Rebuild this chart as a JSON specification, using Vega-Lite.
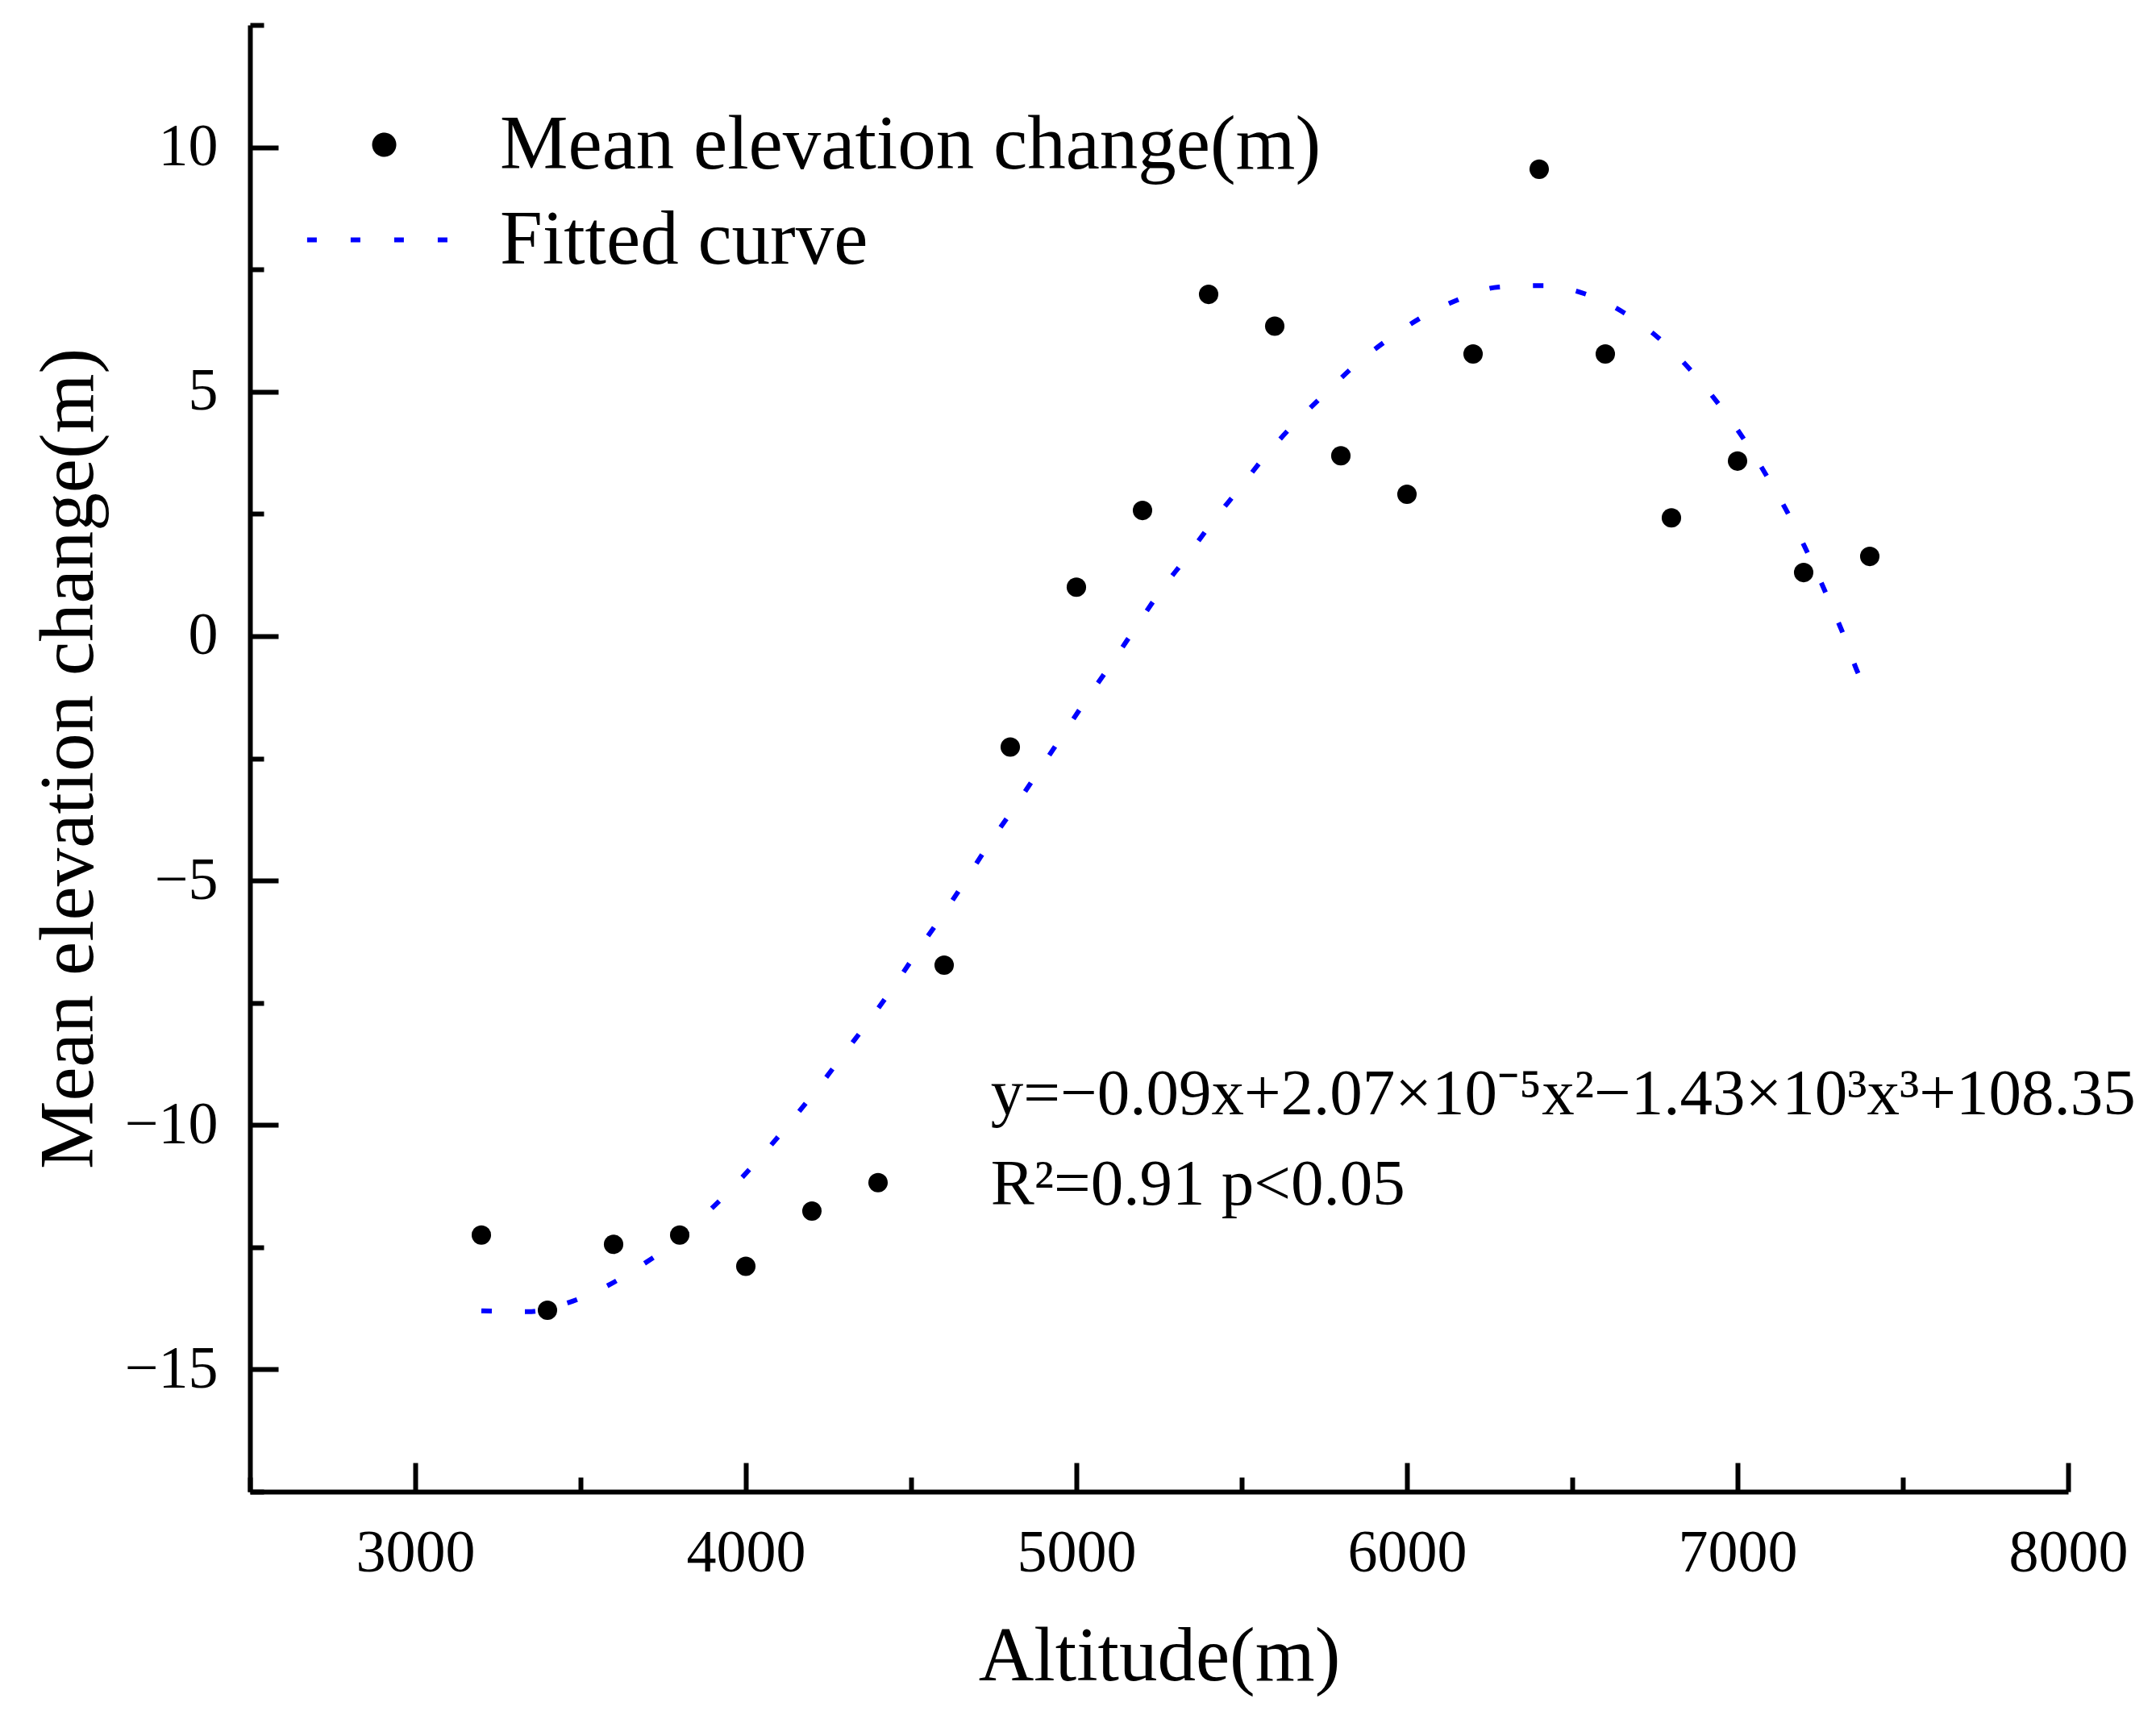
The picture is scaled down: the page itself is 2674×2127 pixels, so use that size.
{
  "$schema": "https://vega.github.io/schema/vega-lite/v6.json",
  "width": 2255,
  "height": 1819,
  "autosize": {"type": "none"},
  "padding": {"left": 310, "top": 31, "right": 109, "bottom": 277},
  "background": "white",
  "config": {"view": {"stroke": null}, "font": "Liberation Serif"},
  "datasets": {
    "points": [
      {"altitude": 3200, "change": -12.25},
      {"altitude": 3400, "change": -13.79},
      {"altitude": 3600, "change": -12.44},
      {"altitude": 3800, "change": -12.25},
      {"altitude": 4000, "change": -12.89},
      {"altitude": 4200, "change": -11.76},
      {"altitude": 4400, "change": -11.18},
      {"altitude": 4600, "change": -6.73},
      {"altitude": 4800, "change": -2.27},
      {"altitude": 5000, "change": 1.0},
      {"altitude": 5200, "change": 2.57},
      {"altitude": 5400, "change": 6.99},
      {"altitude": 5600, "change": 6.34},
      {"altitude": 5800, "change": 3.69},
      {"altitude": 6000, "change": 2.9},
      {"altitude": 6200, "change": 5.77},
      {"altitude": 6400, "change": 9.55},
      {"altitude": 6600, "change": 5.77},
      {"altitude": 6800, "change": 2.42},
      {"altitude": 7000, "change": 3.58},
      {"altitude": 7200, "change": 1.3},
      {"altitude": 7400, "change": 1.63}
    ],
    "curve": [
      {"altitude": 3200, "fit": -13.8},
      {"altitude": 3340, "fit": -13.82},
      {"altitude": 3465, "fit": -13.63},
      {"altitude": 3578, "fit": -13.3},
      {"altitude": 3680, "fit": -12.89},
      {"altitude": 3788, "fit": -12.38},
      {"altitude": 3884, "fit": -11.79},
      {"altitude": 3971, "fit": -11.2},
      {"altitude": 4065, "fit": -10.5},
      {"altitude": 4152, "fit": -9.8},
      {"altitude": 4229, "fit": -9.15},
      {"altitude": 4304, "fit": -8.48},
      {"altitude": 4377, "fit": -7.83},
      {"altitude": 4454, "fit": -7.1},
      {"altitude": 4529, "fit": -6.35},
      {"altitude": 4601, "fit": -5.65},
      {"altitude": 4670, "fit": -4.94},
      {"altitude": 4739, "fit": -4.22},
      {"altitude": 4814, "fit": -3.49},
      {"altitude": 4885, "fit": -2.77},
      {"altitude": 4957, "fit": -2.04},
      {"altitude": 5027, "fit": -1.33},
      {"altitude": 5100, "fit": -0.62},
      {"altitude": 5173, "fit": 0.11},
      {"altitude": 5252, "fit": 0.9},
      {"altitude": 5333, "fit": 1.61},
      {"altitude": 5412, "fit": 2.34},
      {"altitude": 5491, "fit": 3.0},
      {"altitude": 5572, "fit": 3.69},
      {"altitude": 5656, "fit": 4.32},
      {"altitude": 5749, "fit": 4.94},
      {"altitude": 5843, "fit": 5.54},
      {"altitude": 5941, "fit": 6.06},
      {"altitude": 6060, "fit": 6.58},
      {"altitude": 6147, "fit": 6.86},
      {"altitude": 6278, "fit": 7.14},
      {"altitude": 6412, "fit": 7.17},
      {"altitude": 6539, "fit": 7.0},
      {"altitude": 6655, "fit": 6.62},
      {"altitude": 6759, "fit": 6.11},
      {"altitude": 6857, "fit": 5.45},
      {"altitude": 6940, "fit": 4.77},
      {"altitude": 7021, "fit": 4.01},
      {"altitude": 7094, "fit": 3.21},
      {"altitude": 7159, "fit": 2.43},
      {"altitude": 7217, "fit": 1.63},
      {"altitude": 7271, "fit": 0.82},
      {"altitude": 7323, "fit": -0.01},
      {"altitude": 7377, "fit": -0.9},
      {"altitude": 7400, "fit": -1.0}
    ]
  },
  "layer": [
    {
      "data": {"name": "curve"},
      "mark": {"type": "line", "strokeWidth": 6, "strokeDash": [13, 41], "strokeCap": "butt", "interpolate": "monotone"},
      "encoding": {
        "x": {
          "field": "altitude",
          "type": "quantitative",
          "scale": {"domain": [2500, 8000], "nice": false, "zero": false},
          "axis": {
            "values": [2500, 3000, 3500, 4000, 4500, 5000, 5500, 6000, 6500, 7000, 7500, 8000],
            "format": "d",
            "labelExpr": "datum.value % 1000 === 0 ? datum.label : ''",
            "title": "Altitude(m)",
            "grid": false,
            "ticks": true,
            "domainColor": "black",
            "domainWidth": 6,
            "tickColor": "black",
            "tickWidth": 6,
            "tickSize": {"condition": {"test": "datum.value % 1000 === 0", "value": -36}, "value": -18},
            "labelFont": "Liberation Serif",
            "labelFontSize": 74,
            "labelColor": "black",
            "labelPadding": 76,
            "labelFlush": false,
            "labelOverlap": false,
            "titleFont": "Liberation Serif",
            "titleFontSize": 95,
            "titleFontWeight": "normal",
            "titleColor": "black",
            "titlePadding": 27
          }
        },
        "y": {
          "field": "fit",
          "type": "quantitative",
          "scale": {"domain": [-17.5, 12.5], "nice": false, "zero": false},
          "axis": {
            "values": [-17.5, -15, -12.5, -10, -7.5, -5, -2.5, 0, 2.5, 5, 7.5, 10, 12.5],
            "format": "d",
            "labelExpr": "datum.value % 5 === 0 ? datum.label : ''",
            "title": "Mean elevation change(m)",
            "grid": false,
            "ticks": true,
            "domainColor": "black",
            "domainWidth": 6,
            "tickColor": "black",
            "tickWidth": 6,
            "tickSize": {"condition": {"test": "datum.value % 5 === 0", "value": -35}, "value": -17},
            "labelFont": "Liberation Serif",
            "labelFontSize": 74,
            "labelColor": "black",
            "labelPadding": 75,
            "labelFlush": false,
            "labelOverlap": false,
            "titleFont": "Liberation Serif",
            "titleFontSize": 95,
            "titleFontWeight": "normal",
            "titleColor": "black",
            "titlePadding": 20
          }
        },
        "color": {
          "datum": "Fitted curve",
          "type": "nominal",
          "scale": {"domain": ["Mean elevation change(m)", "Fitted curve"], "range": ["black", "#0000ff"]},
          "legend": {
            "title": null,
            "orient": "none",
            "legendX": 111,
            "legendY": 101,
            "labelFont": "Liberation Serif",
            "labelFontSize": 95,
            "labelColor": "black",
            "labelOffset": 104,
            "labelLimit": 3000,
            "rowPadding": 22,
            "symbolSize": 576,
            "symbolType": "circle",
            "encode": {
              "symbols": {
                "update": {
                  "shape": {"signal": "datum.value === 'Fitted curve' ? 'M-7.3,0H7.3' : 'M1.667,0A1,1,0,1,1,-0.333,0A1,1,0,1,1,1.667,0Z'"},
                  "fill": {"signal": "datum.value === 'Fitted curve' ? 'transparent' : 'black'"},
                  "stroke": {"signal": "datum.value === 'Fitted curve' ? '#0000ff' : 'transparent'"},
                  "strokeWidth": {"value": 6},
                  "strokeDash": {"signal": "datum.value === 'Fitted curve' ? [12, 42] : [1, 0]"},
                  "strokeCap": {"value": "butt"},
                  "opacity": {"value": 1}
                }
              }
            }
          }
        }
      }
    },
    {
      "data": {"name": "points"},
      "mark": {"type": "point", "filled": true, "shape": "circle", "size": 580, "opacity": 1},
      "encoding": {
        "x": {"field": "altitude", "type": "quantitative"},
        "y": {"field": "change", "type": "quantitative"},
        "color": {"datum": "Mean elevation change(m)", "type": "nominal"}
      }
    },
    {
      "data": {"values": [{}]},
      "mark": {"type": "text", "align": "left", "baseline": "alphabetic", "font": "Liberation Serif", "fontSize": 81, "lineHeight": 112, "color": "black"},
      "encoding": {
        "x": {"datum": 4741, "type": "quantitative"},
        "y": {"datum": -9.78, "type": "quantitative"},
        "text": {"value": ["y=−0.09x+2.07×10⁻⁵x²−1.43×10³x³+108.35", "R²=0.91 p<0.05"]}
      }
    }
  ]
}
